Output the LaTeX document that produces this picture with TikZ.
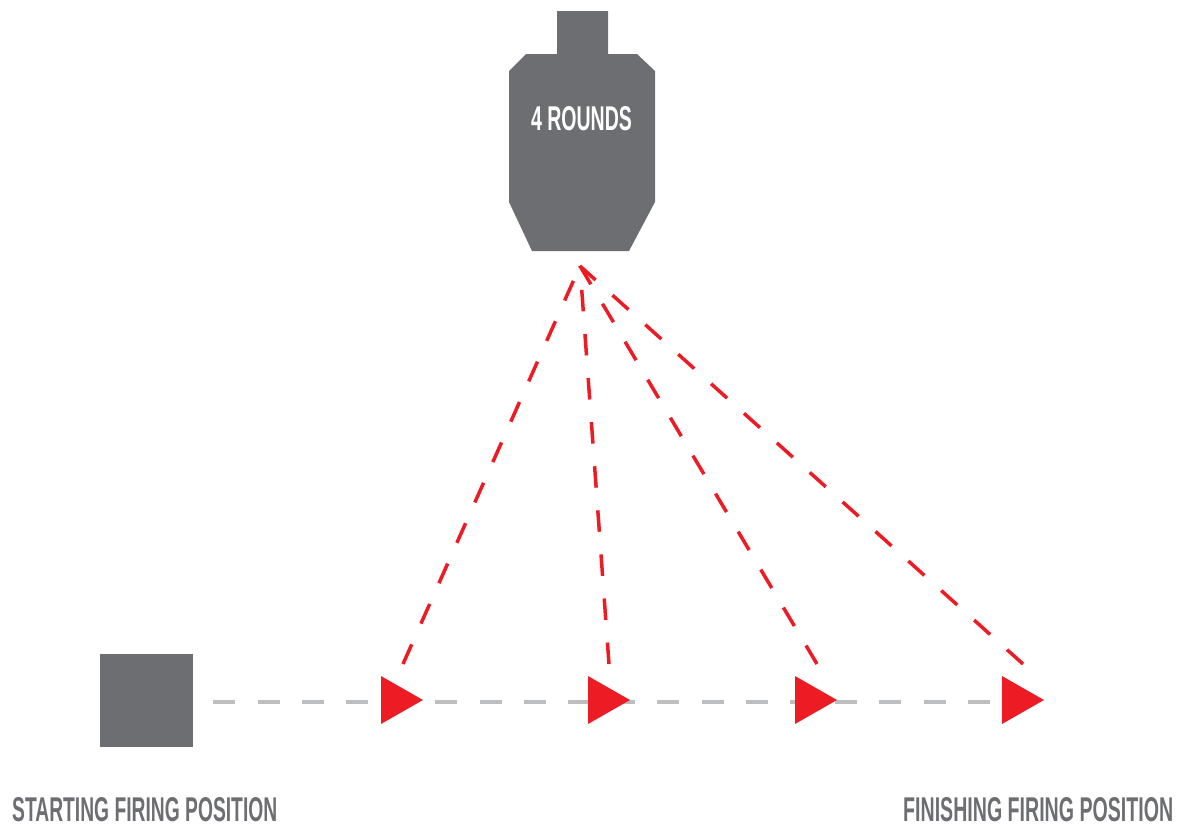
\documentclass[tikz,border=0pt]{standalone}
\usepackage{fontspec}
\setmainfont{Liberation Sans}
\usepackage{graphicx}
\definecolor{tgray}{HTML}{6D6E71}
\definecolor{tred}{HTML}{ED1C24}
\definecolor{lgray}{HTML}{BCBEC0}
\tikzset{
  blockbox/.style={fill=tgray, minimum size=93pt, inner sep=0pt, draw=none},
  graydash/.style={draw=lgray, line width=3.5pt, dash pattern=on 22pt off 22.4pt},
  reddash/.style={draw=tred, line width=3.5pt, dash pattern=on 21.5pt off 22.7pt},
  marker/.style={fill=tred},
  labeltext/.style={inner sep=0pt, text=tgray, anchor=north west},
}
\begin{document}
\begin{tikzpicture}[x=1pt,y=-1pt]
\useasboundingbox (0,0) rectangle (1184,825);
% target silhouette
\fill[tgray] (557,11) -- (608,11) -- (608,54) -- (637,54) -- (655,71) -- (655,202)
  -- (629,251) -- (532,251) -- (509,202) -- (509,71) -- (526,54) -- (557,54) -- cycle;
\node[inner sep=0pt, text=white] (target) at (581.5,119) {\resizebox{101pt}{24pt}{\bfseries 4 ROUNDS}};
\coordinate (apex) at (580,266);
% start block
\node[blockbox] (start) at (146.5,700.5) {};
% marker positions
\coordinate (t1) at (381,700);
\coordinate (t2) at (588,700);
\coordinate (t3) at (795,700);
\coordinate (t4) at (1002,700);
% gray path
\draw[graydash] ([xshift=20pt,yshift=-1.5pt]start.east) -- ([yshift=-2pt]t4);
% markers
\foreach \t in {t1,t2,t3,t4}{
  \fill[marker] (\t) -- ++(0,-24) -- ++(42,24) -- ++(-42,24) -- cycle;
}
% red sight lines
\coordinate (e1) at (403,664);
\coordinate (e2) at (609,664);
\coordinate (e3) at (817,664);
\coordinate (e4) at (1023,664);
\foreach \e in {e1,e2,e3,e4}{
  \draw[reddash] (\e) -- (apex);
}
% labels
\node[labeltext] (startlbl) at (12,797) {\resizebox{265pt}{24pt}{\bfseries STARTING FIRING POSITION}};
\node[labeltext] (finishlbl) at (903,797) {\resizebox{270pt}{24pt}{\bfseries FINISHING FIRING POSITION}};
\end{tikzpicture}
\end{document}
